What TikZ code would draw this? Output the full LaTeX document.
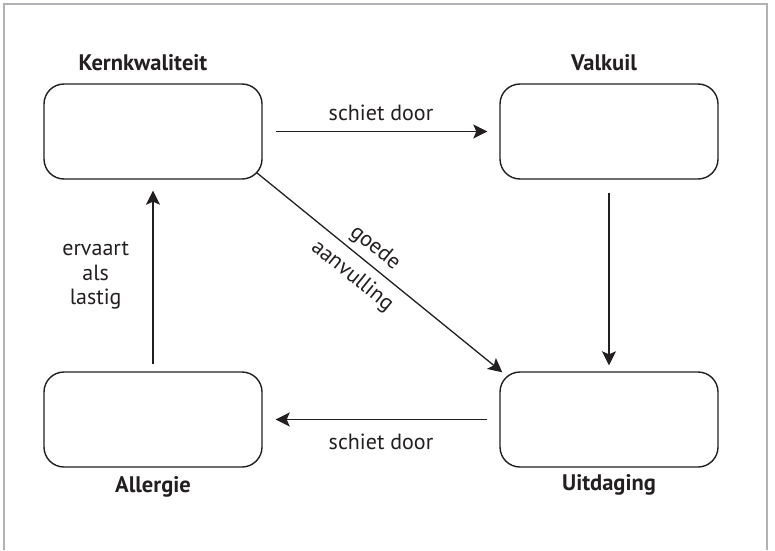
\documentclass[tikz,border=0pt]{standalone}
\usepackage{fontspec}
\setmainfont{PT Sans}
\usepackage{xcolor}
\usepackage{tikz}
\usetikzlibrary{positioning, arrows.meta}
\definecolor{inkgray}{RGB}{35,31,32}
\definecolor{framegray}{RGB}{178,178,182}

\begin{document}
\begin{tikzpicture}[
    x=1pt, y=1pt,
    node distance=9pt,
    box/.style={
        draw=inkgray,
        line width=1.4pt,
        rounded corners=20pt,
        minimum width=218pt,
        minimum height=95pt
    },
    title/.style={font=\fontsize{22.5}{27}\selectfont\bfseries, text=inkgray},
    arrow/.style={-{Stealth[length=14pt,width=14pt,inset=3pt]}, line width=1.3pt, draw=inkgray},
    prop/.style={font=\fontsize{22}{24.5}\selectfont, text=inkgray}
]

\useasboundingbox (0,0) rectangle (775,550);
\draw[framegray, line width=2pt] (4,0) -- (4,545.5) -- (767,545.5) -- (767,0);

\node[box] (kern) at (153,418.5) {};
\node[box] (valkuil) at (609,418.5) {};
\node[box] (allergie) at (153,130.5) {};
\node[box] (uitdaging) at (609,130.5) {};

\node[title, above=of kern, xshift=-10pt] (kerntitle) {Kernkwaliteit};
\node[title, above=of valkuil, xshift=-5pt] (valkuiltitle) {Valkuil};
\node[title, below=5pt of allergie] (allergietitle) {Allergie};
\node[title, below=3pt of uitdaging] (uitdagingtitle) {Uitdaging};

\coordinate (dstart) at ([shift={(-6pt,7pt)}]kern.south east);
\coordinate (dend) at ([shift={(3pt,-1pt)}]uitdaging.north west);

\draw[arrow, shorten <=13pt, shorten >=12pt] (kern) -- node[prop, above=7pt]{schiet door} (valkuil);
\draw[arrow, shorten <=13pt, shorten >=6pt] (valkuil) -- (uitdaging);
\draw[arrow, shorten <=12pt, shorten >=13pt] (uitdaging) -- node[prop, below=10pt]{schiet door} (allergie);
\draw[arrow, shorten <=7pt, shorten >=11pt] (allergie) -- node[prop, left=20pt, align=center]{ervaart\\als\\lastig} (kern);
\draw[arrow] (dstart) -- node[prop, sloped, above=2pt, pos=0.44]{goede} node[prop, sloped, below=6pt, pos=0.44]{aanvulling} (dend);

\end{tikzpicture}
\end{document}
